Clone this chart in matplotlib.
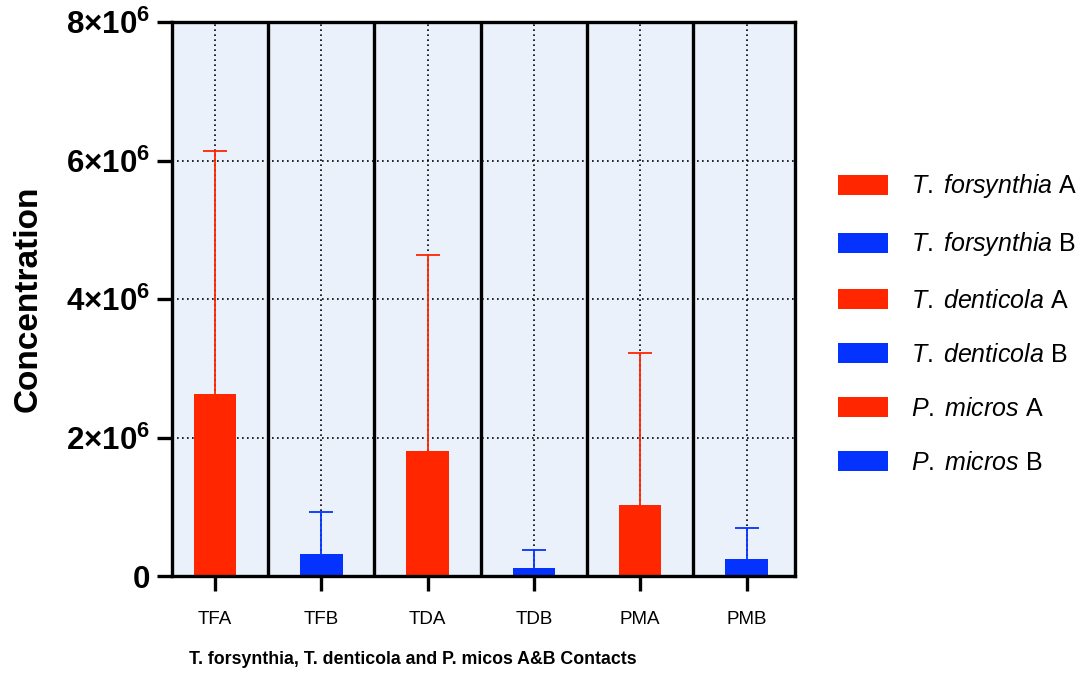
import matplotlib
matplotlib.use("Agg")
import matplotlib.pyplot as plt
from matplotlib.patches import Patch
import numpy as np

plt.rcParams['font.family'] = ['Liberation Sans', 'DejaVu Sans']
plt.rcParams['mathtext.fontset'] = 'custom'
plt.rcParams['mathtext.rm'] = 'Liberation Sans'
plt.rcParams['mathtext.it'] = 'Liberation Sans:italic'
plt.rcParams['mathtext.bf'] = 'Liberation Sans:bold'

categories = ["TFA", "TFB", "TDA", "TDB", "PMA", "PMB"]
means = [2.63e6, 0.32e6, 1.80e6, 0.12e6, 1.03e6, 0.24e6]
upper_err_top = [6.14e6, 0.93e6, 4.64e6, 0.37e6, 3.22e6, 0.69e6]
legend_species = ["T. forsynthia", "T. forsynthia", "T. denticola", "T. denticola", "P. micros", "P. micros"]
legend_group = ["A", "B", "A", "B", "A", "B"]
yticks = [0, 2e6, 4e6, 6e6, 8e6]
ytick_labels = [r"$\mathbf{0}$", r"$\mathbf{2{\times}10^{6}}$", r"$\mathbf{4{\times}10^{6}}$",
                r"$\mathbf{6{\times}10^{6}}$", r"$\mathbf{8{\times}10^{6}}$"]

RED = "#FF2600"
BLUE = "#0433FF"
colors = [RED, BLUE, RED, BLUE, RED, BLUE]

fig = plt.figure(figsize=(10.87, 6.77), dpi=100)
ax = fig.add_axes([172/1087, 1-576/677, (795-172)/1087, (576-22)/677])
ax.set_facecolor("#EAF1FA")

x = np.arange(len(categories))
errs = [u - m for u, m in zip(upper_err_top, means)]

# dotted grid
for yv in yticks[1:-1]:
    ax.axhline(yv, color="black", lw=1.2, ls=(0, (1, 2)), zorder=1)
for xv in x:
    ax.axvline(xv, color="black", lw=1.2, ls=(0, (1, 2)), zorder=1)
# separators
for xv in x[:-1] + 0.5:
    ax.axvline(xv, color="black", lw=2.4, zorder=2)

ax.bar(x, means, width=0.4, color=colors, zorder=3)
for xi, m, e, c in zip(x, means, errs, colors):
    eb = ax.errorbar(xi, m, yerr=[[0], [e]], fmt="none", ecolor=c, elinewidth=1.3,
                     capsize=8.3, capthick=1.3, zorder=4)
    caps = eb[1]
    if len(caps) == 2:
        caps[0].set_visible(False)

ax.set_xlim(-0.405, 5.456)
ax.set_ylim(0, 8e6)
ax.set_xticks(x)
ax.set_xticklabels(categories, fontsize=13.5)
ax.set_yticks(yticks)
ax.set_yticklabels(ytick_labels, fontsize=22.5)
ax.tick_params(axis="y", length=11, width=2.4, pad=5)
ax.tick_params(axis="x", length=11, width=2.4, pad=14)
for s in ax.spines.values():
    s.set_linewidth(2.4)
    s.set_zorder(5)

ax.set_ylabel("Concentration", fontsize=24, fontweight="bold")
ax.yaxis.set_label_coords((44 - 172) / 623, 0.5)
ax.set_xlabel("T. forsynthia, T. denticola and P. micos A&B Contacts",
              fontsize=12.8, fontweight="bold")
ax.xaxis.set_label_coords((413 - 172) / 623, -(660 - 576) / 554)
ax.xaxis.label.set_verticalalignment("center")

handles = []
for sp, g, c in zip(legend_species, legend_group, colors):
    lab = r"$\it{" + sp.replace(" ", r"\;") + "}$ " + g
    handles.append(Patch(facecolor=c, edgecolor="none", label=lab))
fig.legend(handles=handles, loc="upper left", bbox_to_anchor=(815/1087, 1-150/677),
           frameon=False, fontsize=18, handlelength=2.0, handleheight=0.84,
           handletextpad=0.95, labelspacing=1.2)

fig.savefig("out.png", dpi=100)
